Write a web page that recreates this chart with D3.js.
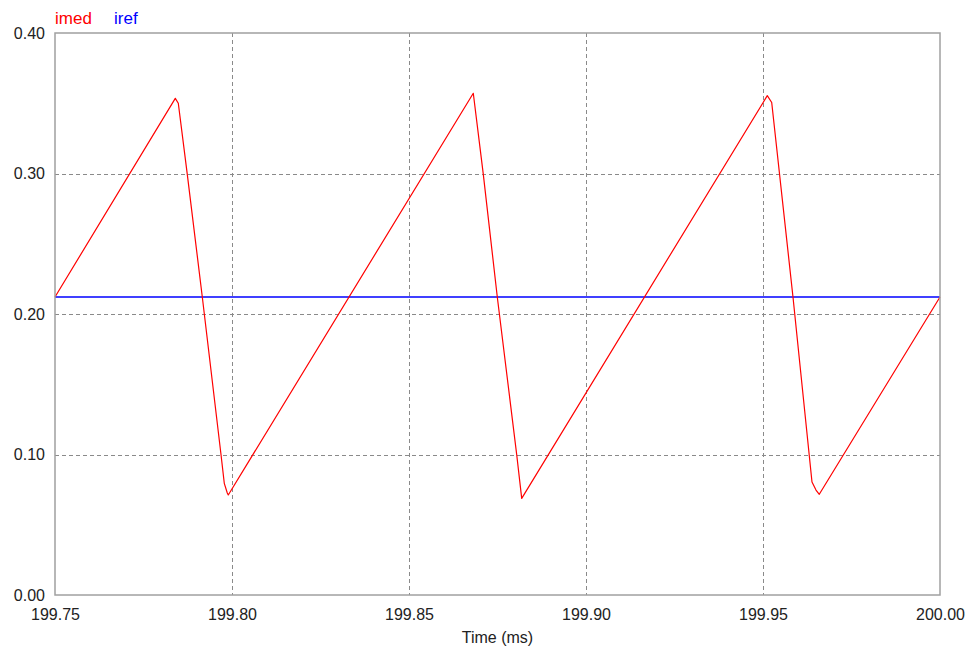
<!DOCTYPE html>
<html>
<head>
<meta charset="utf-8">
<script src="https://cdn.jsdelivr.net/npm/d3@7"></script>
<style>
  html, body { margin: 0; padding: 0; background: #fff; }
  text { font-family: "Liberation Sans", Arial, sans-serif; }
</style>
</head>
<body>
<svg id="chart" width="970" height="655"></svg>
<script>
// ---- data ----
const imedTime = [199.75, 199.78398, 199.78483, 199.78737, 199.79161, 199.79689, 199.79782, 199.79867, 199.79895,
                  199.86816, 199.87099, 199.87494, 199.88042, 199.88184,
                  199.95121, 199.95246, 199.95847, 199.96384, 199.96497, 199.96590, 200.00];
const imedValue = [0.2121, 0.3535, 0.3500, 0.2994, 0.2121, 0.1000, 0.0795, 0.0726, 0.0712,
                   0.3571, 0.2994, 0.2121, 0.1000, 0.0688,
                   0.3554, 0.3505, 0.2121, 0.0804, 0.0747, 0.0717, 0.2121];
const irefTime = [199.75, 200.00];
const irefValue = [0.2121, 0.2121];
const xTicks = [199.75, 199.80, 199.85, 199.90, 199.95, 200.00];
const yTicks = [0.00, 0.10, 0.20, 0.30, 0.40];
const seriesNames = ["imed", "iref"];
const seriesColors = ["#ff0000", "#0000ff"];
const xTitle = "Time (ms)";

// ---- layout ----
const svg = d3.select("#chart");
const L = 55, R = 940, T = 33, B = 595;
const x = d3.scaleLinear().domain([199.75, 200.00]).range([L, R]);
const y = d3.scaleLinear().domain([0, 0.4]).range([B, T]);

// grid
const grid = svg.append("g");
grid.selectAll(".vg").data(xTicks.slice(1, -1)).enter().append("line")
  .attr("x1", d => Math.round(x(d)) + 0.5).attr("x2", d => Math.round(x(d)) + 0.5)
  .attr("y1", T).attr("y2", B)
  .attr("stroke", "#8a8a8a").attr("stroke-width", 1).attr("stroke-dasharray", "4,3");
grid.selectAll(".hg").data(yTicks.slice(1, -1)).enter().append("line")
  .attr("y1", d => Math.round(y(d)) + 0.5).attr("y2", d => Math.round(y(d)) + 0.5)
  .attr("x1", L).attr("x2", R)
  .attr("stroke", "#8a8a8a").attr("stroke-width", 1).attr("stroke-dasharray", "4,3");

// axes (labels only) via d3 axes
const xAxis = d3.axisBottom(x).tickValues(xTicks).tickFormat(d3.format(".2f")).tickSize(0).tickPadding(14);
const gx = svg.append("g").attr("transform", `translate(0,${B})`).call(xAxis);
gx.select(".domain").remove();
gx.selectAll("text").attr("font-size", 16).attr("fill", "#222").attr("font-family", "Liberation Sans, Arial, sans-serif");

const yAxis = d3.axisLeft(y).tickValues(yTicks).tickFormat(d3.format(".2f")).tickSize(0).tickPadding(10);
const gy = svg.append("g").attr("transform", `translate(${L},0)`).call(yAxis);
gy.select(".domain").remove();
gy.selectAll("text").attr("font-size", 16).attr("fill", "#222").attr("font-family", "Liberation Sans, Arial, sans-serif");

// lines
const line = d3.line().x(d => x(d[0])).y(d => y(d[1]));
svg.append("path")
  .datum(irefTime.map((t, i) => [t, irefValue[i]]))
  .attr("d", line).attr("fill", "none").attr("stroke", seriesColors[1]).attr("stroke-width", 1.3);
svg.append("path")
  .datum(imedTime.map((t, i) => [t, imedValue[i]]))
  .attr("d", line).attr("fill", "none").attr("stroke", seriesColors[0]).attr("stroke-width", 1.2)
  .attr("stroke-linejoin", "round");

// frame
svg.append("rect").attr("x", L).attr("y", T).attr("width", R - L).attr("height", B - T)
  .attr("fill", "none").attr("stroke", "#a0a0a0").attr("stroke-width", 1.5);

// legend
const legX = [55, 114];
seriesNames.forEach((n, i) => {
  svg.append("text").attr("x", legX[i]).attr("y", 24).attr("font-size", 17)
    .attr("fill", seriesColors[i]).text(n);
});

// x title
svg.append("text").attr("x", (L + R) / 2).attr("y", 643).attr("text-anchor", "middle")
  .attr("font-size", 16).attr("fill", "#222").text(xTitle);
</script>
</body>
</html>
